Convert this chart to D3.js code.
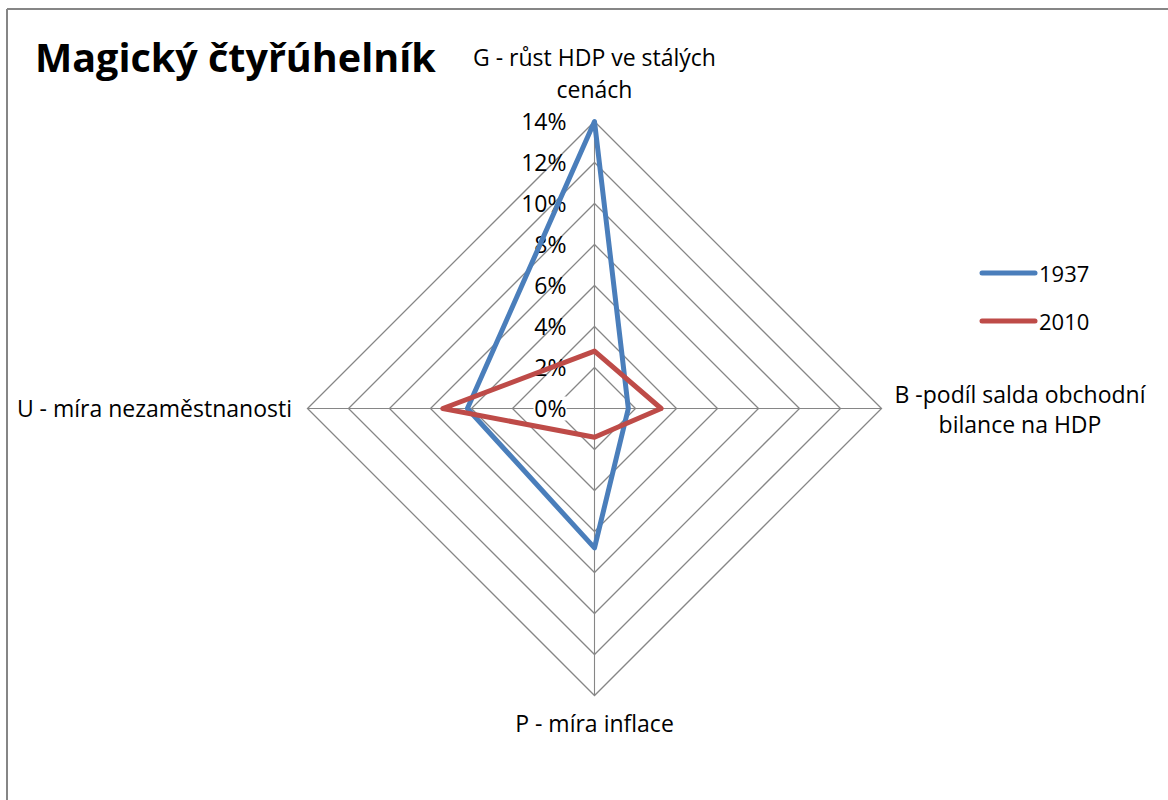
<!DOCTYPE html>
<html>
<head>
<meta charset="utf-8">
<script src="https://cdn.jsdelivr.net/npm/d3@7"></script>
<style>
  html, body { margin: 0; padding: 0; background: #fff; }
  svg { display: block; }
  text { font-family: "Open Sans", Lato, sans-serif; fill: #000; }
</style>
</head>
<body>
<svg id="chart" width="1168" height="800"></svg>
<script>
const title = "Magický čtyřúhelník";
const axes = [
  ["G - růst HDP ve stálých", "cenách"],
  ["B -podíl salda obchodní", "bilance na HDP"],
  ["P - míra inflace"],
  ["U - míra nezaměstnanosti"]
];
const seriesNames = ["1937", "2010"];
const values1937 = [14, 1.65, 6.8, 6.2];
const values2010 = [2.8, 3.25, 1.4, 7.4];
const tickValues = [0, 2, 4, 6, 8, 10, 12, 14];
const tickLabels = ["0%", "2%", "4%", "6%", "8%", "10%", "12%", "14%"];
const colors = ["#4a7ebb", "#be4b48"];

const svg = d3.select("#chart");
const cx = 594.5, cy = 408.5, R = 287;
const gridColor = "#868686";
const fs = 23;

// frame
svg.append("line").attr("x1", 7).attr("y1", 9).attr("x2", 1168).attr("y2", 9)
  .attr("stroke", gridColor).attr("stroke-width", 2);
svg.append("line").attr("x1", 7).attr("y1", 9).attr("x2", 7).attr("y2", 800)
  .attr("stroke", gridColor).attr("stroke-width", 2);

const r = d3.scaleLinear().domain([0, 14]).range([0, R]);
const angle = d3.scalePoint().domain(d3.range(axes.length)).range([0, 2 * Math.PI * (axes.length - 1) / axes.length]);

const g = svg.append("g").attr("transform", `translate(${cx},${cy})`);

const radial = d3.lineRadial().curve(d3.curveLinearClosed);

// rings
g.selectAll("path.ring").data(tickValues.filter(t => t > 0)).join("path")
  .attr("class", "ring")
  .attr("d", t => radial(axes.map((a, i) => [angle(i), r(t)])))
  .attr("fill", "none").attr("stroke", gridColor).attr("stroke-width", 1.3);

// spokes
g.selectAll("line.spoke").data(axes).join("line")
  .attr("class", "spoke")
  .attr("x1", 0).attr("y1", 0)
  .attr("x2", (d, i) => r(14) * Math.sin(angle(i)))
  .attr("y2", (d, i) => -r(14) * Math.cos(angle(i)))
  .attr("stroke", gridColor).attr("stroke-width", 1.1);

// tick labels
const tl = g.selectAll("g.tick").data(tickValues).join("g").attr("class", "tick")
  .attr("transform", t => `translate(-28,${-r(t)})`);
tl.append("rect").attr("x", -33).attr("y", -12).attr("width", 33).attr("height", 24).attr("fill", "#fff")
  .attr("opacity", (t, i) => i === 0 ? 1 : 0);
tl.append("text").attr("text-anchor", "end").attr("dy", "0.36em")
  .attr("font-size", fs).text((t, i) => tickLabels[i]);

// series
[values1937, values2010].forEach((vals, si) => {
  g.append("path")
    .attr("d", radial(vals.map((v, i) => [angle(i), r(v)])))
    .attr("fill", "none").attr("stroke", colors[si]).attr("stroke-width", 5)
    .attr("stroke-linejoin", "round");
});

// axis labels
const labelPos = [
  { x: cx, y: 66, anchor: "middle", lh: 32 },
  { x: 1020, y: 403, anchor: "middle", lh: 30 },
  { x: cx, y: 732, anchor: "middle", lh: 30 },
  { x: 292, y: 416.5, anchor: "end", lh: 30 }
];
axes.forEach((lines, i) => {
  const p = labelPos[i];
  const t = svg.append("text").attr("text-anchor", p.anchor).attr("font-size", fs);
  lines.forEach((ln, j) => t.append("tspan").attr("x", p.x).attr("y", p.y + j * p.lh).text(ln));
});

// title
svg.append("text").attr("x", 35).attr("y", 71.5).attr("font-size", 39.5).attr("font-weight", "bold").text(title);

// legend
seriesNames.forEach((name, i) => {
  const y = 273 + i * 48;
  svg.append("line").attr("x1", 982).attr("x2", 1035).attr("y1", y).attr("y2", y)
    .attr("stroke", colors[i]).attr("stroke-width", 5).attr("stroke-linecap", "round");
  svg.append("text").attr("x", 1039).attr("y", y + 8.5).attr("font-size", 22).text(name);
});
</script>
</body>
</html>
